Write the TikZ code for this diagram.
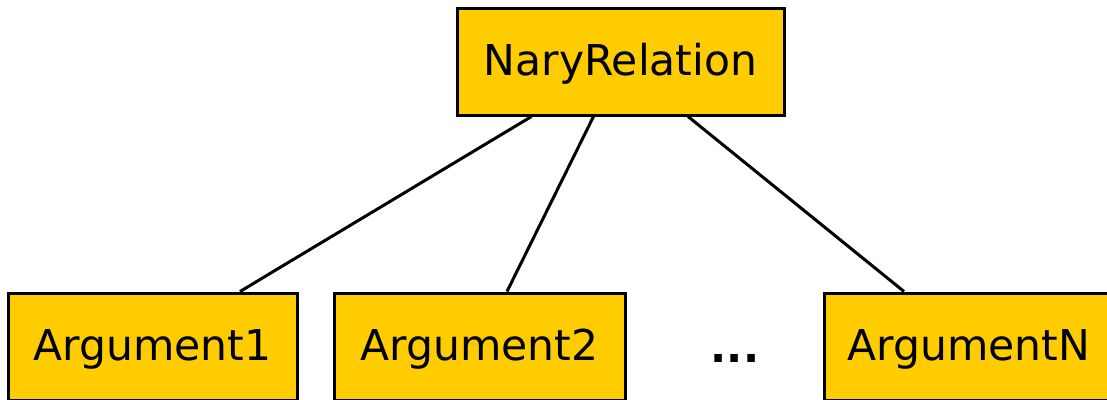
\documentclass[tikz,border=0pt]{standalone}
\usepackage{fontspec}
\setmainfont{DejaVu Sans}
\definecolor{boxfill}{HTML}{FFCC00}
\begin{document}
\begin{tikzpicture}[x=1pt,y=-1pt,
  cls/.style={draw=black,line width=3pt,fill=boxfill,minimum height=107pt,inner sep=0pt,text height=28pt,text depth=0pt,font=\fontsize{42.5}{50}\selectfont},
  link/.style={line width=3pt}]
\useasboundingbox (0,0) rectangle (1107,399);
\node[cls,minimum width=327pt] (nary) at (620.5,61.5) {NaryRelation};
\node[cls,minimum width=289pt] (a1) at (152.5,346.5) {Argument1};
\node[cls,minimum width=291pt] (a2) at (479.5,346.5) {Argument2};
\node[cls,minimum width=290pt] (aN) at (969,346.5) {ArgumentN};
\node[font=\fontsize{42.5}{50}\selectfont\bfseries,anchor=base,inner sep=0pt] (dots) at (735,362.5) {...};
\draw[link] ([xshift=-89pt]nary.south) -- ([xshift=87.5pt]a1.north);
\draw[link] ([xshift=-27pt]nary.south) -- ([xshift=27.5pt]a2.north);
\draw[link] ([xshift=67.5pt]nary.south) -- ([xshift=-65pt]aN.north);
\end{tikzpicture}
\end{document}
